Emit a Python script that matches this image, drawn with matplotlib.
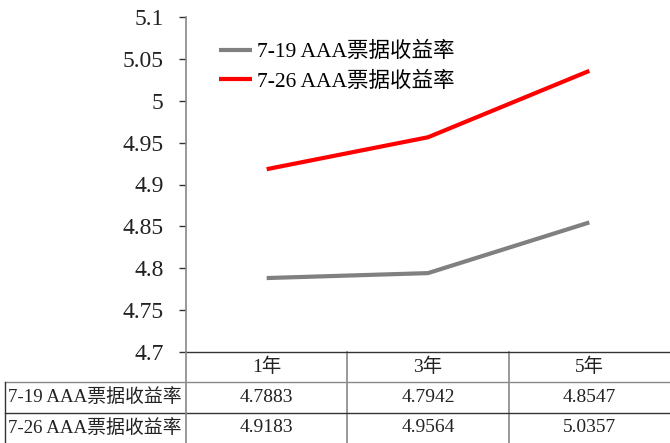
import matplotlib
matplotlib.use("Agg")
import matplotlib.pyplot as plt
from matplotlib.transforms import blended_transform_factory

plt.rcParams['font.family'] = ['Liberation Serif', 'Noto Sans CJK SC']

categories = ['1年', '3年', '5年']
series_names = ['7-19 AAA票据收益率', '7-26 AAA票据收益率']
s1 = [4.7883, 4.7942, 4.8547]
s2 = [4.9183, 4.9564, 5.0357]
series_values = [s1, s2]
series_labels = [['4.7883', '4.7942', '4.8547'], ['4.9183', '4.9564', '5.0357']]
colors = ['#808080', '#ff0000']
yticks = [4.7, 4.75, 4.8, 4.85, 4.9, 4.95, 5.0, 5.05, 5.1]
ytick_labels = ['4.7', '4.75', '4.8', '4.85', '4.9', '4.95', '5', '5.05', '5.1']

W, H = 670, 443
fig = plt.figure(figsize=(W / 100, H / 100), dpi=100)
x0, x1, ytop, ybot = 186, 670, 17, 352
ax = fig.add_axes([x0 / W, (H - ybot) / H, (x1 - x0) / W, (ybot - ytop) / H])

xs = list(range(len(categories)))
for vals, c, name in zip(series_values, colors, series_names):
    ax.plot(xs, vals, color=c, lw=3.0, label=name, solid_capstyle='butt')

ax.set_xlim(-0.5, len(categories) - 0.5)
ax.set_ylim(4.7, 5.1)
ax.set_yticks(yticks)
ax.set_yticklabels(ytick_labels, fontsize=17, color='#222222')
ax.set_xticks([])
for s in ['top', 'right', 'bottom']:
    ax.spines[s].set_visible(False)
ax.spines['left'].set_color('#888888')
ax.spines['left'].set_linewidth(1.2)
ax.tick_params(axis='y', length=5, width=1, color='#333333', pad=11)

leg = ax.legend(loc='upper left', bbox_to_anchor=(0.068, 0.925), frameon=False,
                fontsize=15.5, handlelength=1.55, handletextpad=0.2, labelspacing=0.42,
                borderaxespad=0, borderpad=0)

# data table below the axis
bt = blended_transform_factory(ax.transData, fig.transFigure)
ft = fig.transFigure
def fy(py):
    return (H - py) / H
def fx(px):
    return px / W

line_kw = dict(color='#333333', lw=1.0, clip_on=False)
gray_kw = dict(color='#888888', lw=1.2, clip_on=False)
# horizontal lines
fig.add_artist(plt.Line2D([fx(x0), fx(x1)], [fy(352), fy(352)], transform=ft, **line_kw))
fig.add_artist(plt.Line2D([fx(5), fx(x1)], [fy(382), fy(382)], transform=ft, color='#888888', lw=1.0))
fig.add_artist(plt.Line2D([fx(5), fx(x1)], [fy(413), fy(413)], transform=ft, color='#333333', lw=1.0))
# vertical lines
fig.add_artist(plt.Line2D([fx(x0), fx(x0)], [fy(352), fy(443)], transform=ft, **gray_kw))
fig.add_artist(plt.Line2D([fx(5), fx(5)], [fy(382), fy(443)], transform=ft, color='#333333', lw=1.0))
for i in range(1, len(categories)):
    xb = i - 0.5
    ax.plot([xb, xb], [fy(352), fy(443)], transform=bt, color='#888888', lw=1.2, clip_on=False)

row_y = [367, 397, 428]
tfs = 14
for i, cat in enumerate(categories):
    ax.text(i, fy(row_y[0]), cat, transform=bt, ha='center', va='center', fontsize=tfs, color='#222222')
for r, (name, labs) in enumerate(zip(series_names, series_labels)):
    ax.text(fx(8), fy(row_y[r + 1]), name, transform=ft, ha='left', va='center', fontsize=13.6, color='#222222')
    for i, lab in enumerate(labs):
        ax.text(i, fy(row_y[r + 1]), lab, transform=bt, ha='center', va='center', fontsize=tfs, color='#222222')

fig.savefig('out.png', dpi=100)
